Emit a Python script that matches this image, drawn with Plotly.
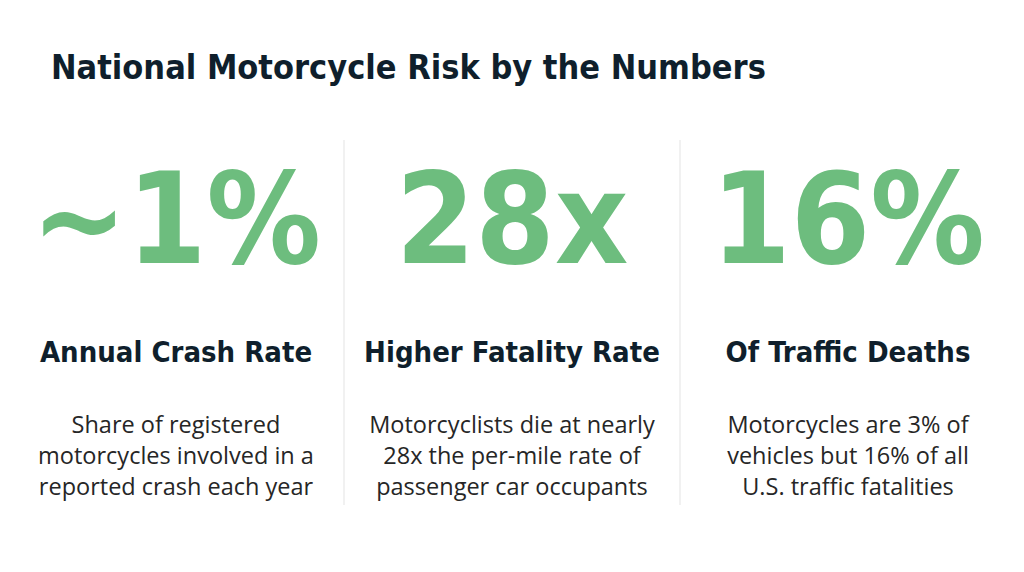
import plotly.graph_objects as go

title = "National Motorcycle Risk by the Numbers"
stats = ["~1%", "28x", "16%"]
headings = ["Annual Crash Rate", "Higher Fatality Rate", "Of Traffic Deaths"]
descriptions = [
    ["Share of registered", "motorcycles involved in a", "reported crash each year"],
    ["Motorcyclists die at nearly", "28x the per-mile rate of", "passenger car occupants"],
    ["Motorcycles are 3% of", "vehicles but 16% of all", "U.S. traffic fatalities"],
]

GREEN = "#6dbd7e"
NAVY = "#0f1f2c"
COND = "DejaVu Sans Condensed, Roboto"

cols = [0.5, 1.5, 2.5]

fig = go.Figure()

# big numbers
fig.add_trace(go.Scatter(
    x=cols, y=[231] * 3, mode="text", text=stats,
    textfont=dict(family=COND, size=127, color=GREEN, weight="bold"),
    textposition="middle center", hoverinfo="skip"))

# headings
fig.add_trace(go.Scatter(
    x=cols, y=[355] * 3, mode="text", text=headings,
    textfont=dict(family=COND, size=29, color=NAVY, weight="bold"),
    textposition="middle center", hoverinfo="skip"))

# descriptions, one row per line
line_y = [427, 458, 489]
for i, ly in enumerate(line_y):
    fig.add_trace(go.Scatter(
        x=cols, y=[ly] * 3, mode="text", text=[d[i] for d in descriptions],
        textfont=dict(family="Open Sans", size=23.5, color="#262626"),
        textposition="middle center", hoverinfo="skip"))

# column dividers
for xd in [1, 2]:
    fig.add_shape(type="line", x0=xd, x1=xd, y0=140, y1=505, xref="x", yref="y",
                  line=dict(color="#ececec", width=1.5))

fig.add_annotation(
    text=title, xref="paper", yref="paper", x=41 / 1024, y=1 - 59 / 572,
    xanchor="left", yanchor="middle", showarrow=False,
    font=dict(family=COND, size=34, color=NAVY, weight="bold"))

# page body adds an 8px offset, so the ranges are shifted to compensate
fig.update_xaxes(range=[0, 1024 / 336], visible=False, fixedrange=True)
fig.update_yaxes(range=[580, 8], visible=False, fixedrange=True)
fig.update_layout(
    width=1024, height=572, margin=dict(l=0, r=0, t=0, b=0),
    paper_bgcolor="white", plot_bgcolor="white", showlegend=False)

fig.write_html("out.html")
